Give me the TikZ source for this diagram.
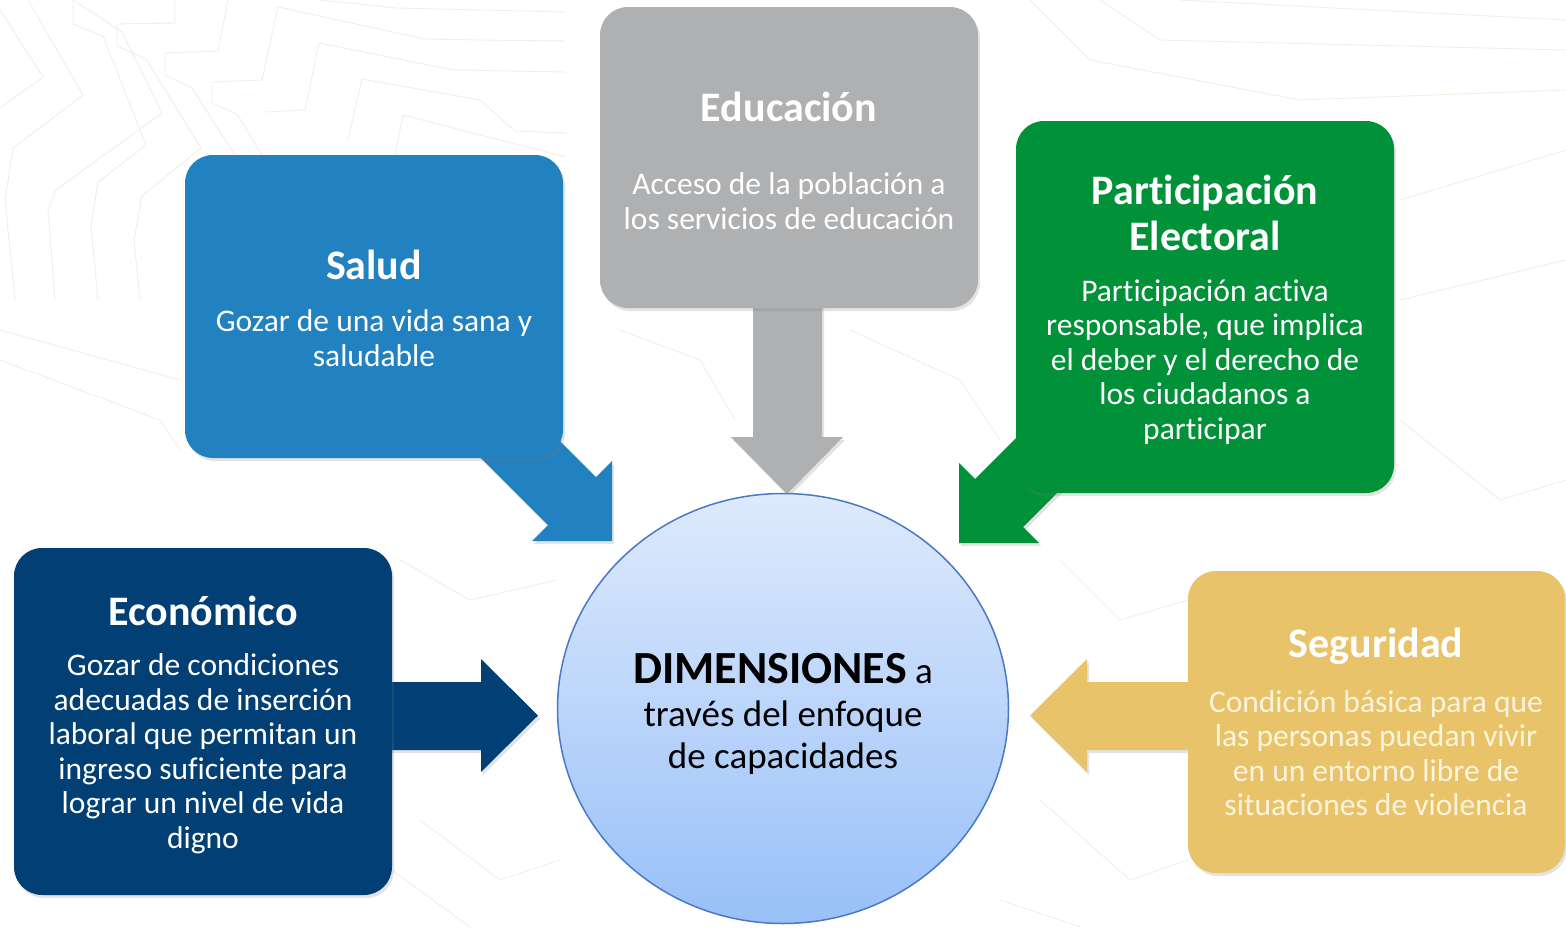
\documentclass[tikz,border=0pt]{standalone}
\usepackage{fontspec}
\setmainfont{Carlito}[Ligatures=NoCommon]
\usetikzlibrary{shadows,shapes.geometric}
\definecolor{cgray}{HTML}{AFB0B2}
\definecolor{cblue}{HTML}{2181C1}
\definecolor{cgreen}{HTML}{009139}
\definecolor{cnavy}{HTML}{013F74}
\definecolor{cyellow}{HTML}{E8C36A}
\definecolor{cpale}{HTML}{FDF4DE}
\definecolor{ctop}{HTML}{DEEAFD}
\definecolor{cbot}{HTML}{98C0F8}
\definecolor{cborder}{HTML}{4A78C6}
\definecolor{cline}{HTML}{F3EEE4}
\begin{document}
\begin{tikzpicture}[x=1pt,y=-1pt,
  shad/.style={drop shadow={opacity=0.22, shadow xshift=2pt, shadow yshift=-3pt}},
  box/.style={shad, rounded corners=28pt, inner sep=0pt, draw=none},
  ttl/.style={text=white, align=center, font=\fontsize{42}{46}\selectfont\bfseries},
  body/.style={text=white, align=center, font=\fontsize{31.5}{34.5}\selectfont},
  bg/.style={draw=cline, line width=0.9pt}]
\useasboundingbox (0,0) rectangle (1566,927);
\fill[white] (0,0) rectangle (1566,927);
% faint background pattern
\draw[bg] (0,10) -- (43,77) -- (0,108);
\draw[bg] (28,0) -- (83,95) -- (13,148) -- (5,200) -- (15,300);
\draw[bg] (73,0) -- (122,32) -- (162,113) -- (56,190) -- (48,210) -- (55,300);
\draw[bg] (73,0) -- (73,24) -- (103,36) -- (146,145) -- (98,182) -- (91,226) -- (98,300);
\draw[bg] (175,0) -- (175,23) -- (117,24) -- (117,46) -- (146,59) -- (201,148) -- (142,196) -- (134,240) -- (140,300);
\draw[bg] (228,0) -- (218,51) -- (165,53) -- (165,75) -- (192,88) -- (236,157);
\draw[bg] (278,7) -- (262,80) -- (212,82) -- (212,103) -- (237,114) -- (262,155);
\draw[bg] (319,43) -- (305,110) -- (265,112);
\draw[bg] (278,7) -- (425,39) -- (480,40) -- (566,41);
\draw[bg] (319,43) -- (453,70) -- (510,71) -- (566,72);
\draw[bg] (362,79) -- (348,140);
\draw[bg] (362,79) -- (480,100) -- (515,131) -- (566,133);
\draw[bg] (403,115) -- (395,155);
\draw[bg] (403,115) -- (566,157);
\draw[bg] (320,0) -- (397,8) -- (566,12);
\draw[bg] (0,330) -- (180,380);
\draw[bg] (0,360) -- (160,420) -- (180,450);
\draw[bg] (1030,0) -- (1090,60) -- (1300,100) -- (1566,90);
\draw[bg] (1100,0) -- (1160,40) -- (1566,50);
\draw[bg] (1180,0) -- (1566,20);
\draw[bg] (1400,200) -- (1566,150);
\draw[bg] (1400,300) -- (1566,260);
\draw[bg] (1400,420) -- (1500,500) -- (1566,480);
\draw[bg] (1060,560) -- (1120,620) -- (1188,600);
\draw[bg] (1040,800) -- (1130,880) -- (1188,860);
\draw[bg] (1000,900) -- (1080,927);
\draw[bg] (400,560) -- (470,600) -- (557,580);
\draw[bg] (420,820) -- (500,880) -- (560,860);
\draw[bg] (392,870) -- (470,927);
\draw[bg] (620,330) -- (700,360) -- (735,420);
\draw[bg] (850,330) -- (960,380) -- (1000,440);
% arrows
\fill[cgray, shad] (753,300) -- (753,437) -- (731,437) -- (787,494) -- (843,437) -- (822,437) -- (822,300) -- cycle;
\fill[cblue, shad] (516,397) -- (596,477) -- (612,461) -- (612,541) -- (532,541) -- (548,525) -- (468,445) -- cycle;
\fill[cgreen, shad] (1055,399) -- (975,479) -- (959,463) -- (959,543) -- (1039,543) -- (1023,527) -- (1103,447) -- cycle;
\fill[cnavy, shad] (380,682) -- (481,682) -- (481,659) -- (538,715.5) -- (481,772) -- (481,750) -- (380,750) -- cycle;
\fill[cyellow, shad] (1200,682) -- (1087,682) -- (1087,659) -- (1030,715.5) -- (1087,772) -- (1087,750) -- (1200,750) -- cycle;
% boxes
\node[box, fill=cgray, minimum width=378pt, minimum height=301pt] (edu) at (789,157.5) {};
\node[box, fill=cblue, minimum width=378pt, minimum height=303pt] (sal) at (374,306.5) {};
\node[box, fill=cgreen, minimum width=378pt, minimum height=372pt] (par) at (1205,307) {};
\node[box, fill=cnavy, minimum width=378pt, minimum height=347pt] (eco) at (203,721.5) {};
\node[box, fill=cyellow, minimum width=377pt, minimum height=302pt] (seg) at (1376.5,722) {};
% circle (slightly flattened, as in the reference)
\node[ellipse, minimum width=451pt, minimum height=430pt, inner sep=0pt, draw=cborder, line width=1.5pt, top color=ctop, bottom color=cbot] (c) at (783,708.5) {};
% texts
\node[ttl] (edut) at (789,107) {Educación};
\node[body] (edub) at (789,201) {Acceso de la población a\\los servicios de educación};
\node[ttl] (salt) at (374,265) {Salud};
\node[body] (salb) at (374,338) {Gozar de una vida sana y\\saludable};
\node[ttl] (part) at (1205,213) {Participación\\Electoral};
\node[body] (parb) at (1205,362) {Participación activa\\responsable, que implica\\el deber y el derecho de\\los ciudadanos a\\participar};
\node[ttl] (ecot) at (203,611) {Económico};
\node[body] (ecob) at (203,754) {Gozar de condiciones\\adecuadas de inserción\\laboral que permitan un\\ingreso suficiente para\\lograr un nivel de vida\\digno};
\node[ttl] (segt) at (1376,646) {Seguridad};
\node[body, text=cpale] (segb) at (1376,753) {Condición básica para que\\las personas puedan vivir\\en un entorno libre de\\situaciones de violencia};
\node[align=center, text=black, font=\fontsize{37}{42.5}\selectfont] (ct) at (783,714) {{\fontsize{46}{42.5}\selectfont\bfseries DIMENSIONES} a\\través del enfoque\\de capacidades};
\end{tikzpicture}
\end{document}
